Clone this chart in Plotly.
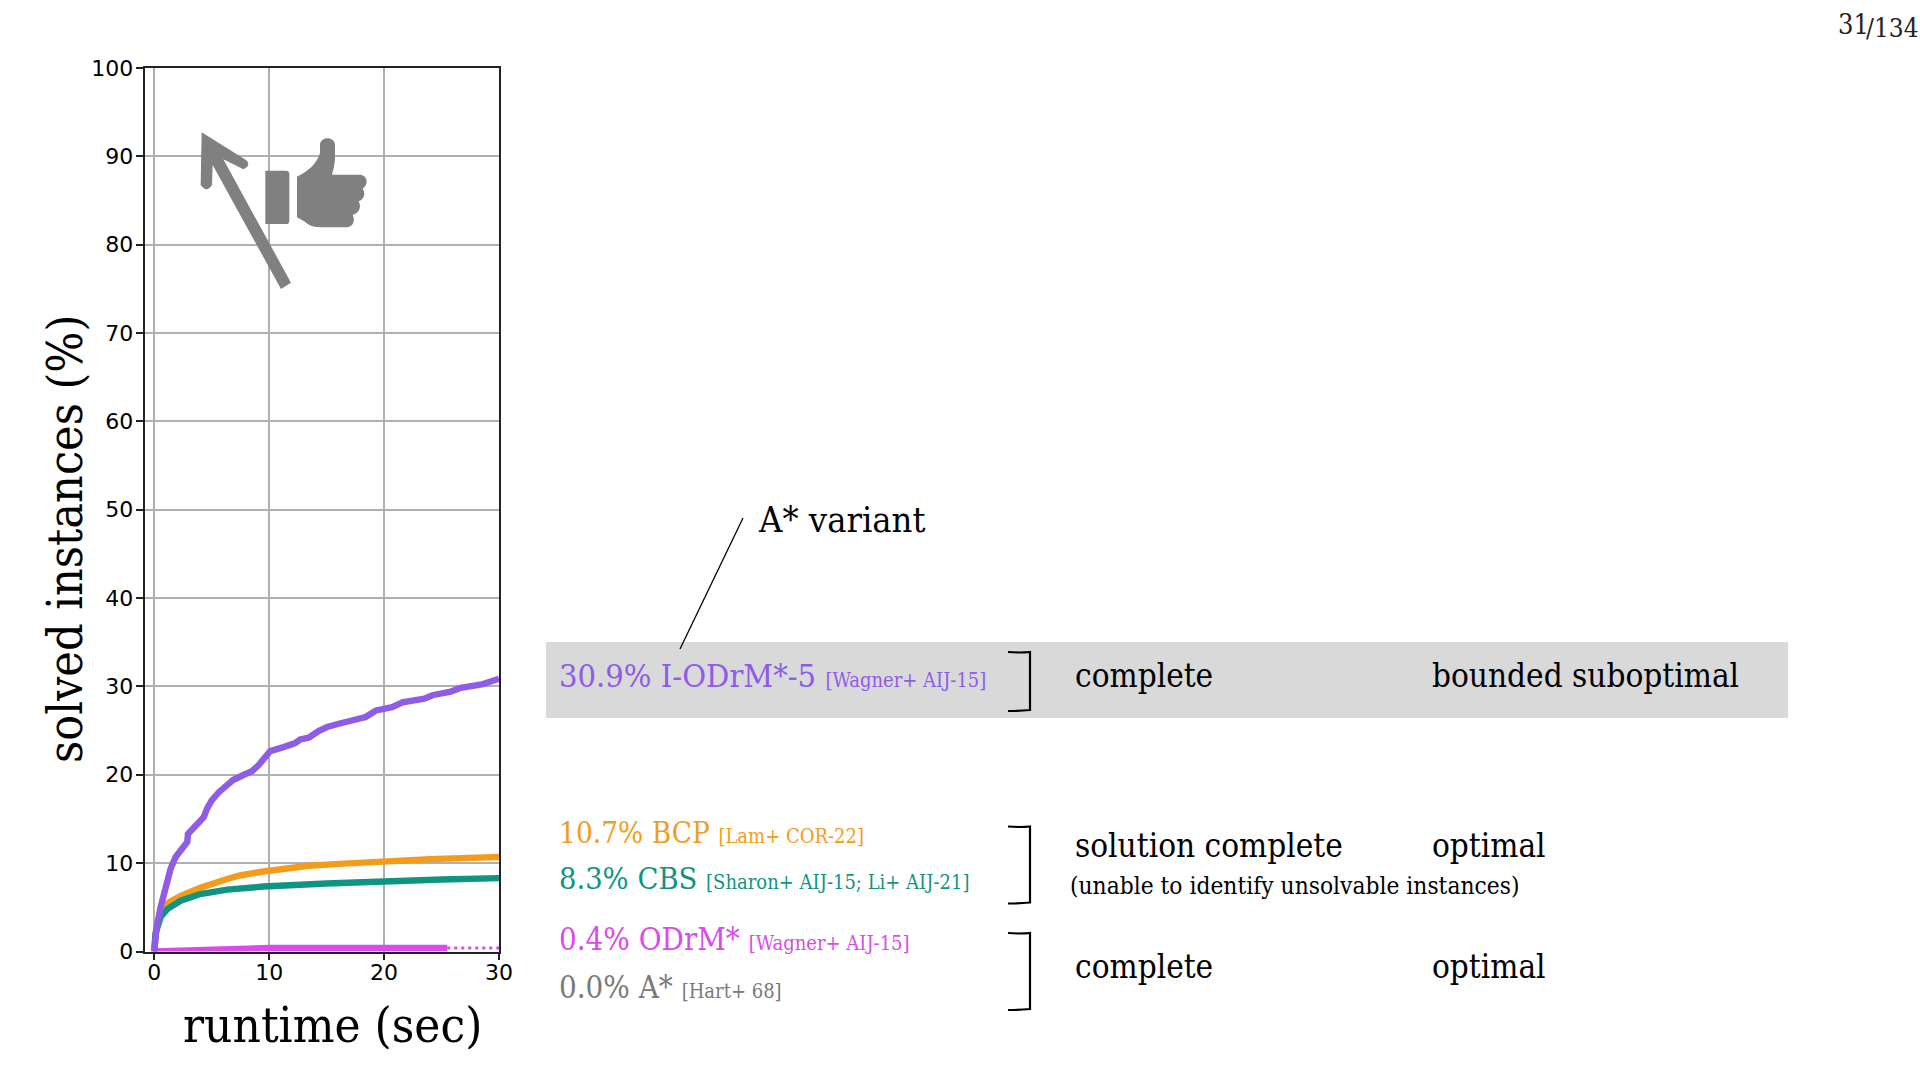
import plotly.graph_objects as go

W, H = 1920, 1080
SERIF = "DejaVu Serif Condensed, DejaVu Serif, serif"

# ---- data ----
time_iodrm = [0, 0.2, 0.55, 1, 1.42, 1.86, 2.43, 2.87, 2.93, 3.6, 4.3, 4.6, 5, 5.6, 6.3, 6.85, 7.8, 8.5, 9.07, 10.09, 11.25, 12.27, 12.7, 13.44, 14.3, 15.04, 16.06, 16.94, 17.5, 18.4, 19.3, 20.15, 20.7, 21.6, 22.6, 23.5, 24.2, 25.8, 26.56, 27.7, 28.6, 30]
vals_iodrm = [0, 2.7, 5, 7.46, 9.35, 10.7, 11.8, 12.4, 13.3, 14.3, 15.2, 16.2, 17.1, 18, 18.7, 19.4, 20, 20.4, 21.06, 22.68, 23.13, 23.58, 24, 24.19, 24.94, 25.4, 25.77, 26.04, 26.3, 26.53, 27.28, 27.47, 27.66, 28.2, 28.4, 28.6, 29, 29.4, 29.8, 30.1, 30.26, 30.87]
time_bcp = [0, 0.15, 0.7, 1.2, 2.3, 4, 6.35, 7.45, 9.5, 11, 13.45, 16.5, 20, 24, 30]
vals_bcp = [0, 2.3, 4.8, 5.5, 6.3, 7.2, 8.2, 8.6, 9.05, 9.3, 9.7, 9.95, 10.25, 10.45, 10.7]
time_cbs = [0, 0.1, 0.55, 1.13, 2.3, 4, 6.35, 7.5, 9.5, 15, 20, 25, 30]
vals_cbs = [0, 2, 3.9, 4.8, 5.75, 6.5, 7.0, 7.15, 7.35, 7.7, 8.0, 8.15, 8.3]
time_odrm = [0, 2, 5, 10, 25.5]
vals_odrm = [0, 0.1, 0.3, 0.4, 0.4]
time_odrm_tail = [25.5, 30]
vals_odrm_tail = [0.4, 0.4]

x_ticks = [0, 10, 20, 30]
y_ticks = [0, 10, 20, 30, 40, 50, 60, 70, 80, 90, 100]

PURPLE = "#8f5ce8"
ORANGE = "#f39c1c"
TEAL = "#109482"
MAGENTA = "#d84cea"
GRAY = "#7a7a7a"
ICON = "#808080"


def px(x):
    return x / W


def py(y):
    return 1 - y / H


def path(*items):
    """Build an SVG path in paper coordinates from page pixels."""
    out = []
    for it in items:
        if isinstance(it, str):
            out.append(it)
        else:
            out.append(f"{px(it[0]):.5f},{py(it[1]):.5f}")
    return " ".join(out)


def zoomed(x, y):
    return (120 + x / 3, 100 + y / 3)


fig = go.Figure()
line_w = 6.4
fig.add_trace(go.Scatter(x=time_odrm_tail, y=vals_odrm_tail, mode="lines", showlegend=False,
                         line=dict(color=MAGENTA, width=3, dash="3px,4px")))
fig.add_trace(go.Scatter(x=time_odrm, y=vals_odrm, mode="lines", name="ODrM*", showlegend=False,
                         line=dict(color=MAGENTA, width=line_w)))
fig.add_trace(go.Scatter(x=time_bcp, y=vals_bcp, mode="lines", name="BCP", showlegend=False,
                         line=dict(color=ORANGE, width=line_w)))
fig.add_trace(go.Scatter(x=time_cbs, y=vals_cbs, mode="lines", name="CBS", showlegend=False,
                         line=dict(color=TEAL, width=line_w)))
fig.add_trace(go.Scatter(x=time_iodrm, y=vals_iodrm, mode="lines", name="I-ODrM*-5", showlegend=False,
                         line=dict(color=PURPLE, width=line_w)))

shapes = []
# gray highlight band
shapes.append(dict(type="rect", xref="paper", yref="paper", layer="below",
                   x0=px(546), x1=px(1788), y0=py(642), y1=py(718),
                   fillcolor="#d9d9d9", line=dict(width=0)))
# leader line
shapes.append(dict(type="line", xref="paper", yref="paper",
                   x0=px(743), y0=py(518), x1=px(680), y1=py(649),
                   line=dict(color="black", width=1.3)))
# brackets
for top, bottom in [(652, 710), (826.5, 902.5), (933, 1009)]:
    shapes.append(dict(type="path", xref="paper", yref="paper",
                       path=path("M", (1008, top), "Q", (1020, top + 1), (1030, top), "L", (1030, bottom),
                                 "Q", (1020, bottom + 1), (1008, bottom + 1)),
                       line=dict(color="black", width=2.2)))
# arrow icon
arrow = ["M", zoomed(245, 97), "L", zoomed(378, 180), "Q", zoomed(395, 195), zoomed(370, 208),
         "L", zoomed(310, 178), "L", zoomed(513, 548), "L", zoomed(483, 567), "L", zoomed(278, 195),
         "L", zoomed(276, 255), "Q", zoomed(260, 280), zoomed(242, 255), "Z"]
shapes.append(dict(type="path", xref="paper", yref="paper", path=path(*arrow),
                   fillcolor=ICON, line=dict(width=0)))
# thumbs-up icon: cuff and hand
cuff = ["M", zoomed(436, 212), "L", zoomed(498, 212), "Q", zoomed(508, 212), zoomed(508, 222),
        "L", zoomed(508, 362), "Q", zoomed(508, 372), zoomed(498, 372), "L", zoomed(436, 372), "Z"]
hand = ["M", zoomed(531, 230), "Q", zoomed(585, 205), zoomed(600, 160), "L", zoomed(600, 135),
        "C", zoomed(600, 108), zoomed(645, 108), zoomed(645, 135), "L", zoomed(645, 180),
        "Q", zoomed(642, 205), zoomed(636, 224), "L", zoomed(718, 224),
        "C", zoomed(742, 224), zoomed(748, 252), zoomed(728, 266),
        "C", zoomed(738, 280), zoomed(732, 298), zoomed(716, 304),
        "C", zoomed(726, 322), zoomed(716, 340), zoomed(698, 345),
        "C", zoomed(708, 365), zoomed(696, 382), zoomed(680, 382),
        "L", zoomed(605, 382), "Q", zoomed(570, 382), zoomed(555, 365), "L", zoomed(531, 352), "Z"]
for p in (cuff, hand):
    shapes.append(dict(type="path", xref="paper", yref="paper", path=path(*p),
                       fillcolor=ICON, line=dict(width=0)))

MAIN = 33
SMALL = 20


def row(value, name, cite):
    return f'{value} {name} <span style="font-size:{SMALL}px">{cite}</span>'


annotations_spec = [
    (558, 676, row("30.9%", "I-ODrM*-5", "[Wagner+ AIJ-15]"), PURPLE, 32.4),
    (558, 833, row("10.7%", "BCP", "[Lam+ COR-22]"), ORANGE, 29.5),
    (558, 878, row("8.3%", "CBS", "[Sharon+ AIJ-15; Li+ AIJ-21]"), TEAL, 30.5),
    (558, 939, row("0.4%", "ODrM*", "[Wagner+ AIJ-15]"), MAGENTA, 31),
    (558, 987, row("0.0%", "A*", "[Hart+ 68]"), GRAY, 31),
    (757, 519, "A* variant", "black", 36),
    (1074, 675, "complete", "black", MAIN),
    (1431, 675, "bounded suboptimal", "black", MAIN),
    (1074, 845, "solution complete", "black", MAIN),
    (1431, 845, "optimal", "black", MAIN),
    (1069, 885, "(unable to identify unsolvable instances)", "black", 24.3),
    (1074, 966, "complete", "black", MAIN),
    (1431, 966, "optimal", "black", MAIN),
]
annotations = [dict(xref="paper", yref="paper", x=px(x), y=py(y), xanchor="left", yanchor="middle",
                    text=t, showarrow=False, align="left", borderpad=0, font=dict(family=SERIF, size=s, color=c))
               for x, y, t, c, s in annotations_spec]
annotations.append(dict(xref="paper", yref="paper", x=px(332), y=py(1025), xanchor="center", yanchor="middle",
                        text="runtime (sec)", showarrow=False, font=dict(family=SERIF, size=49, color="black")))
annotations.append(dict(xref="paper", yref="paper", x=px(65), y=py(539), xanchor="center", yanchor="middle",
                        text="solved instances (%)", textangle=-90, showarrow=False,
                        font=dict(family=SERIF, size=48, color="black")))
annotations.append(dict(xref="paper", yref="paper", x=px(1870), y=py(24), xanchor="right", yanchor="middle",
                        text="31", showarrow=False, borderpad=0,
                        font=dict(family=SERIF, size=27, color="#222222")))
annotations.append(dict(xref="paper", yref="paper", x=px(1920), y=py(28), xanchor="right", yanchor="middle",
                        text="/134", showarrow=False, borderpad=0,
                        font=dict(family=SERIF, size=26, color="#222222")))

axis_common = dict(showgrid=True, gridcolor="#b0b0b0", gridwidth=1.5, zeroline=False, automargin=False,
                   showline=True, linecolor="#222222", linewidth=1.6, mirror=True,
                   ticks="outside", ticklen=7, tickwidth=1.5, tickcolor="#222222",
                   tickfont=dict(family="DejaVu Sans", size=22, color="black"))

fig.update_layout(
    width=W, height=H, margin=dict(l=0, r=0, t=0, b=0),
    paper_bgcolor="white", plot_bgcolor="white", showlegend=False,
    xaxis=dict(domain=[px(144.5), px(499)], range=[-0.85, 30], tickmode="array", tickvals=x_ticks,
               ticklabelstandoff=-7, **axis_common),
    yaxis=dict(domain=[py(951.5), py(67.8)], range=[0, 100], tickmode="array", tickvals=y_ticks,
               ticklabelstandoff=-2, **axis_common),
    shapes=shapes, annotations=annotations,
)
fig.write_html("out.html", config={"displayModeBar": False},
               post_script="document.body.style.margin='0';document.documentElement.style.overflow='hidden';")
